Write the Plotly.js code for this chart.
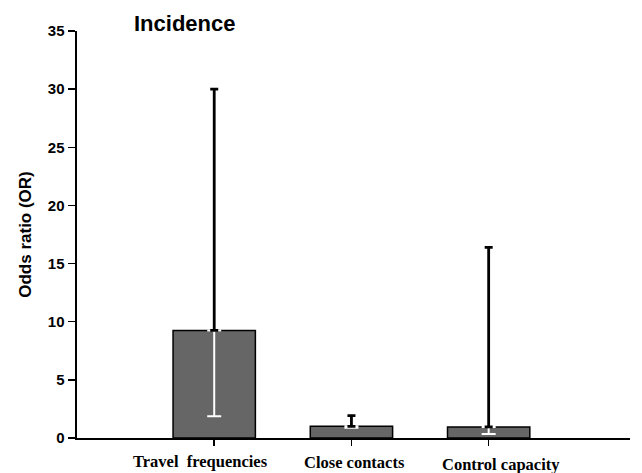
<!DOCTYPE html>
<html>
<head>
<meta charset="utf-8">
<script src="https://cdn.plot.ly/plotly-3.0.1.min.js"></script>
<style>html,body{margin:0;padding:0;background:#fff;}#chart{width:642px;height:473px;}</style>
</head>
<body>
<div id="chart"></div>
<script>
const categories = ["Travel  frequencies", "Close contacts", "Control capacity"];
const oddsRatio = [9.25, 1.0, 0.95];
const upperCI = [30.0, 1.92, 16.4];
const lowerCI = [1.88, 0.88, 0.35];
const yTicks = [0, 5, 10, 15, 20, 25, 30, 35];

const xPos = [0, 1, 2];
const upErr = oddsRatio.map((v, i) => upperCI[i] - v);
const downErr = oddsRatio.map((v, i) => v - lowerCI[i]);
const zeros = oddsRatio.map(() => 0);

const traces = [
  {
    type: 'bar', x: xPos, y: oddsRatio, width: 0.6,
    marker: {color: '#666666', line: {color: '#000000', width: 1.5}},
    hoverinfo: 'skip', showlegend: false
  },
  {
    type: 'scatter', mode: 'none', x: xPos, y: oddsRatio, showlegend: false,
    error_y: {type: 'data', symmetric: false, array: zeros, arrayminus: downErr,
      color: '#ffffff', thickness: 2, width: 7}
  },
  {
    type: 'scatter', mode: 'none', x: xPos, y: oddsRatio, showlegend: false,
    error_y: {type: 'data', symmetric: false, array: upErr, arrayminus: zeros,
      color: '#000000', thickness: 2.8, width: 4}
  }
];

const labelShift = [-14, 3, 12];
const labelDrop = [-12, -13, -15];
const annotations = categories.map((c, i) => ({
  x: xPos[i], y: 0, xref: 'x', yref: 'y', text: '<b>' + c + '</b>',
  showarrow: false, yanchor: 'top', yshift: labelDrop[i], xshift: labelShift[i],
  font: {family: 'Liberation Serif, Times New Roman, serif', size: 16.5, color: '#000'}
}));
annotations.push({
  xref: 'paper', yref: 'paper', x: 0.1, y: 1.0, xanchor: 'left', yanchor: 'bottom',
  yshift: -7,
  text: '<b>Incidence</b>', showarrow: false,
  font: {family: 'Liberation Sans, Arial, sans-serif', size: 22, color: '#000'}
});

const layout = {
  width: 642, height: 473,
  margin: {l: 77, r: 12, t: 31, b: 35},
  paper_bgcolor: '#ffffff', plot_bgcolor: '#ffffff',
  showlegend: false,
  bargap: 0,
  xaxis: {
    range: [-1.0, 3.03], showgrid: false, zeroline: false,
    tickmode: 'array', tickvals: xPos, showticklabels: false,
    ticks: 'outside', ticklen: 6, tickwidth: 1.5, tickcolor: '#000',
    showline: true, linecolor: '#000', linewidth: 2
  },
  yaxis: {
    range: [0, 35], showgrid: false, zeroline: false,
    tickmode: 'array', tickvals: yTicks,
    ticks: 'outside', ticklen: 7, tickwidth: 1.5, tickcolor: '#000',
    showline: true, linecolor: '#000', linewidth: 2.5,
    tickfont: {family: 'Liberation Sans, Arial, sans-serif', size: 15, color: '#000', weight: 'bold'},
    title: {text: '<b>Odds ratio (OR)</b>', standoff: 12,
      font: {family: 'Liberation Sans, Arial, sans-serif', size: 17, color: '#000'}}
  },
  annotations: annotations
};

Plotly.newPlot('chart', traces, layout, {staticPlot: true, displayModeBar: false});
</script>
</body>
</html>
